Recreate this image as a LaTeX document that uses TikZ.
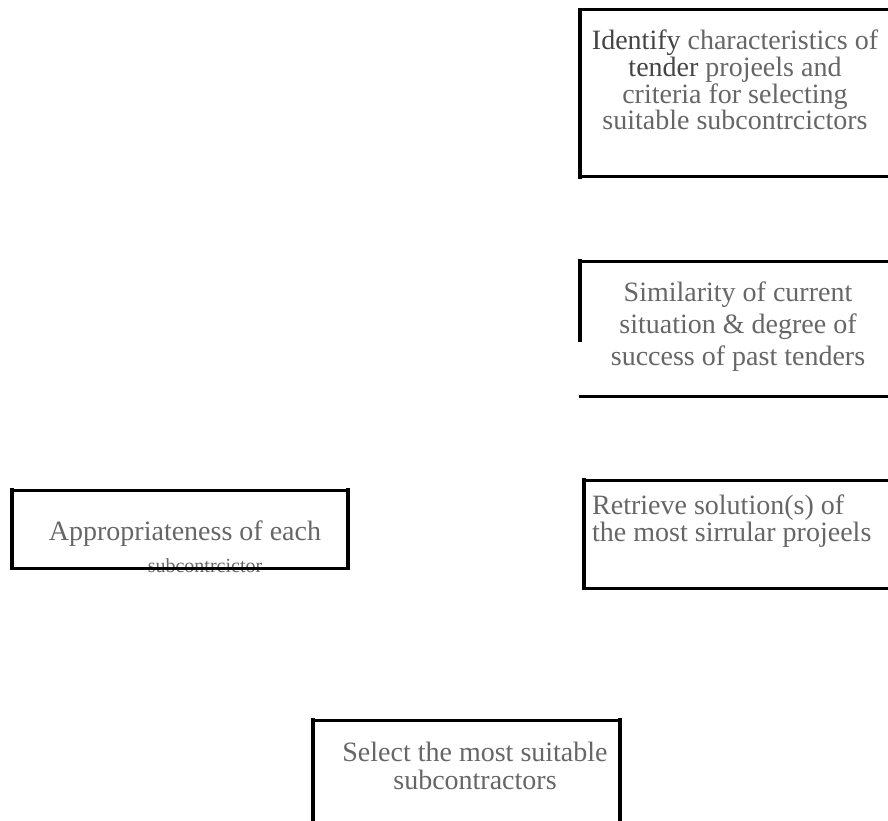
\documentclass[tikz,border=0pt]{standalone}
\usepackage{fontspec}
\setmainfont{Liberation Serif}
\definecolor{txt}{HTML}{666666}
\definecolor{txtd}{HTML}{444444}
\begin{document}
\begin{tikzpicture}[x=1pt,y=-1pt,
  label text/.style={inner sep=0pt, text=txt, align=center},
  thickside/.style={line width=4pt, line cap=rect},
  thinside/.style={line width=3pt, line cap=rect}]
\useasboundingbox (0,0) rectangle (888,821);
% Box 1
\node[label text, font=\fontsize{28}{25}\selectfont] (t1) at (735,80)
  {{\color{txtd}Identify} characteristics of\\ {\color{txtd}tender} projeels and\\ criteria for selecting\\ suitable subcontrcictors};
\coordinate (b1tl) at (580,10);
\coordinate (b1bl) at (580,177);
\coordinate (b1tr) at (888,10);
\coordinate (b1br) at (888,177);
\draw[thinside] (b1tl) -- (b1tr);
\draw[thinside] (b1bl) -- (b1br);
\draw[thickside] (b1tl) -- (b1bl);
% Box 2
\node[label text, font=\fontsize{28}{32}\selectfont] (t2) at (738,327)
  {Similarity of current\\ situation \& degree of\\ success of past tenders};
\coordinate (b2tl) at (580,261);
\coordinate (b2ml) at (580,340);
\coordinate (b2tr) at (888,261);
\coordinate (b2bl) at (580,396);
\coordinate (b2br) at (888,396);
\draw[thinside] (b2tl) -- (b2tr);
\draw[thinside] (b2bl) -- (b2br);
\draw[thickside] (b2tl) -- (b2ml);
% Box 3
\node[label text, align=left, anchor=west, font=\fontsize{28}{27}\selectfont] (t3) at (592,521)
  {Retrieve solution(s) of\\ the most sirrular projeels};
\coordinate (b3tl) at (584,480);
\coordinate (b3tr) at (888,480);
\coordinate (b3bl) at (584,588);
\coordinate (b3br) at (888,588);
\draw[thinside] (b3tl) -- (b3tr);
\draw[thinside] (b3bl) -- (b3br);
\draw[thickside] (b3tl) -- (b3bl);
% Box 4
\node[label text, font=\fontsize{28}{28}\selectfont] (t4a) at (185,534) {Appropriateness of each};
\node[label text, font=\fontsize{20}{20}\selectfont] (t4b) at (205,566) {subcontrcictor};
\coordinate (b4tl) at (12,490);
\coordinate (b4tr) at (348,490);
\coordinate (b4bl) at (12,568);
\coordinate (b4br) at (348,568);
\draw[thinside] (b4tl) -- (b4tr);
\draw[thinside] (b4bl) -- (b4br);
\draw[thickside] (b4tl) -- (b4bl);
\draw[thickside] (b4tr) -- (b4br);
% Box 5
\node[label text, font=\fontsize{28}{28}\selectfont] (t5) at (475,766)
  {Select the most suitable\\ subcontractors};
\coordinate (b5tl) at (313,720);
\coordinate (b5tr) at (620,720);
\coordinate (b5bl) at (313,821);
\coordinate (b5br) at (620,821);
\draw[thinside] (b5tl) -- (b5tr);
\draw[thickside] (b5tl) -- (b5bl);
\draw[thickside] (b5tr) -- (b5br);
\end{tikzpicture}
\end{document}
